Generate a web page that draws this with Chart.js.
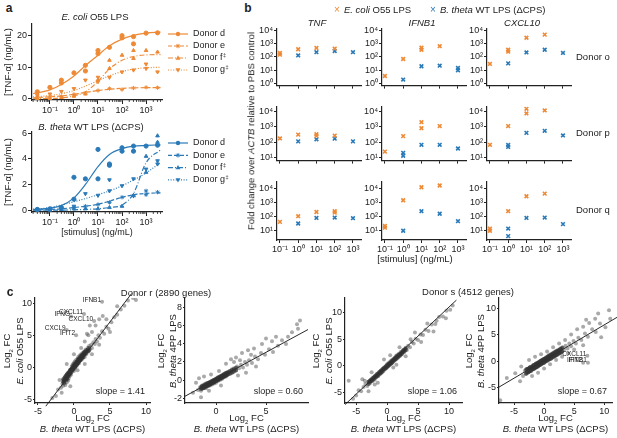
<!DOCTYPE html>
<html>
<head>
<meta charset="utf-8">
<script src="https://cdn.jsdelivr.net/npm/chart.js"></script>
<style>
  body { margin: 0; background: #fff; }
  #fig { position: relative; width: 617px; height: 438px; overflow: hidden;
         font-family: "Liberation Sans", Arial, sans-serif; color: #222; }
  #fig canvas { position: absolute; }
  .t { position: absolute; white-space: nowrap; line-height: 1; }
</style>
</head>
<body>
<div id="fig"></div>
<script>
// ---- panel a: TNF-α dose response (ng/mL) ----
const conc = [0.03, 0.1, 0.3, 1, 3, 10, 30, 100, 300, 1000, 3000];
const fitConc = [0.02, 0.1, 0.3, 1, 3, 10, 30, 100, 300, 1000, 4000];
const donorsA = ["Donor d", "Donor e", "Donor f", "Donor g"];
const footA = ["", "", "‡", "‡"];
const ecoliTnf = [
  [2.2, 3.6, 5.9, 8.2, 10.6, 15.3, 16.3, 19.3, 19.7, 20.8, 20.9],
  [0.3, 0.5, 0.7, 1.4, 1.8, 2.6, 3.2, 2.9, 3.4, 3.6, 3.5],
  [0.1, 0.0, 0.4, 0.8, 1.5, 6.0, 12.2, 13.8, 15.3, 15.3, 14.8],
  [1.0, 1.5, 2.3, 3.2, 5.9, 5.4, 6.8, 8.5, 9.1, 9.6, 8.5]
];
const ecoliExtra = [[0, 0.3, 5.0], [0, 3, 8.8], [0, 10, 14.3], [0, 100, 20.0], [0, 300, 17.4],
                    [2, 30, 9.6], [2, 300, 12.8], [3, 10, 6.8], [3, 1000, 11.0]];
const ecoliFit = [
  [1.6, 2.8, 4.5, 7.2, 10.5, 13.8, 16.8, 18.9, 20.1, 20.8, 21.1],
  [0.3, 0.6, 0.9, 1.4, 2.0, 2.6, 3.0, 3.3, 3.45, 3.5, 3.5],
  [0.0, 0.1, 0.3, 0.9, 2.2, 5.5, 9.5, 12.2, 13.4, 13.9, 14.0],
  [0.6, 1.0, 1.6, 2.6, 4.0, 5.7, 7.3, 8.6, 9.4, 9.8, 10.0]
];
const bthetaTnf = [
  [0.05, 0.1, 0.2, 2.56, 2.44, 4.74, 3.6, 4.87, 5.0, 5.0, 5.07],
  [0.05, 0.05, 0.1, 0.2, 0.3, 0.44, 0.6, 1.0, 1.1, 1.5, 1.4],
  [0.0, 0.0, 0.05, 0.1, 0.1, 0.1, 0.2, 0.3, 1.15, 4.2, 5.8],
  [0.0, 0.05, 0.1, 0.3, 1.28, 1.15, 2.36, 1.9, 2.44, 3.2, 3.85]
];
const bthetaExtra = [[0, 1, 0.85], [0, 10, 2.44], [0, 100, 4.6], [0, 300, 4.6], [0, 30, 3.5],
                     [1, 1000, 1.2], [2, 1000, 2.95], [2, 3000, 5.3], [3, 30, 1.5], [3, 3000, 3.6]];
const bthetaFit = [
  [0.05, 0.15, 0.35, 0.95, 2.0, 3.4, 4.35, 4.8, 5.0, 5.05, 5.1],
  [0.0, 0.05, 0.1, 0.2, 0.3, 0.45, 0.7, 1.0, 1.2, 1.3, 1.35],
  [0.0, 0.0, 0.0, 0.02, 0.05, 0.1, 0.2, 0.4, 1.3, 3.7, 4.7],
  [0.05, 0.2, 0.4, 0.65, 0.9, 1.2, 1.5, 1.9, 2.35, 2.9, 3.7]
];
const aTickX = [0.1, 1, 10, 100, 1000];
const aTickYTop = [0, 10, 20];
const aTickYBot = [0, 2, 4, 6];

// ---- panel b: fold change over ACTB (rows: donor o, p, q; cols: TNF, IFNB1, CXCL10) ----
const bConc = [0.1, 1, 10, 100, 1000];
const genes = ["TNF", "IFNB1", "CXCL10"];
const donorsB = ["Donor o", "Donor p", "Donor q"];
const ecoliFold = [
  [[[150, 200], 380, 480, 430, null], [3.7, 70, [350, 500], 650, null], [30, [250, 350], 2800, 4800, null]],
  [[170, 300, [250, 320], 260, null], [24, 240, [780, 1900], 1070, null], [66, 1070, [7000, 14000], 11000, null]],
  [[39, 100, 200, [180, 230], null], [[15, 20], 1400, 12000, 16000, null], [[9, 13], 230, 2700, 4200, null]]
];
const bthetaFold = [
  [[null, 130, 230, 280, 230], [null, 2, 20, 22, [10, 15]], [null, 33, 220, 350, 200]],
  [[null, 110, 150, 165, 110], [null, [13, 20], 66, 66, 38], [null, [48, 65], 390, 530, 265]],
  [[null, 30, 75, 80, 72], [null, 9, 230, 150, 44], [null, [3.7, 13], 75, 80, 27]]
];
const bTickX = [0.1, 1, 10, 100, 1000];
const bTickY = [[1, 10, 100, 1000, 10000], [10, 100, 1000, 10000], [10, 100, 1000, 10000]];

// ---- panel c: log2 FC scatter (x: B. theta WT LPS) ----
const cTitles = ["Donor r (2890 genes)", "Donor s (4512 genes)"];
const slopes = ["1.41", "0.60", "1.06", "0.67"];
const fcREcoli = [
  [-1.8,-3.2],[-1.6,-2.6],[-1.5,-2.9],[-1.4,-2.2],[-1.3,-2.5],[-1.2,-1.9],[-1.2,-2.8],[-1.1,-2.1],[-1.0,-1.6],[-1.0,-2.4],
  [-0.9,-1.9],[-0.9,-1.2],[-0.8,-1.5],[-0.8,-2.1],[-0.7,-1.1],[-0.7,-1.7],[-0.6,-0.8],[-0.6,-1.4],[-0.5,-1.0],[-0.5,-0.5],
  [-0.4,-1.2],[-0.4,-0.3],[-0.3,-0.7],[-0.3,0.1],[-0.2,-0.4],[-0.2,0.3],[-0.1,-0.2],[-0.1,0.5],[0,0],[0,-0.6],[0,0.6],
  [0.1,0.2],[0.1,0.9],[0.2,-0.1],[0.2,0.6],[0.3,0.4],[0.3,1.1],[0.4,0.2],[0.4,0.8],[0.5,1.3],[0.5,0.5],[0.6,0.9],[0.6,1.6],
  [0.7,0.6],[0.7,1.2],[0.8,1.0],[0.8,1.8],[0.9,1.4],[1.0,1.1],[1.0,2.0],[1.1,1.6],[1.2,1.3],[1.2,2.2],[1.3,1.8],[1.4,2.4],
  [1.5,1.6],[1.5,2.1],[1.6,2.7],[1.7,2.0],[1.8,2.5],[1.9,3.0],[2.0,2.4],[2.1,3.3],[2.2,2.8],[2.4,3.5],[2.5,3.0],[2.7,3.9],
  [2.9,3.6],[3.0,4.4],[3.2,4.0],[3.4,5.0],[3.6,4.6],[3.9,5.6],[4.2,5.2],[4.5,6.3],[4.8,6.0],[5.2,7.0],[5.6,7.8],[6.0,8.2],
  [6.5,9.0],[7.0,9.6],[7.5,10.4],[8.2,10.8],[8.6,10.5],
  [-2.5,-4.5],[-2.2,-3.5],[-2.0,-2.0],[-1.7,-4.0],[-0.5,-3.0],[0.5,-0.5],[1.0,3.0],[0.0,2.0],[1.5,4.0],[2.0,5.0],[2.5,5.5],
  [3.0,6.5],[4.0,8.0],[3.5,7.5],[1.5,0.5],[2.5,2.0],[3.5,3.5],[5.0,5.5],[4.5,7.5],[-1.0,0.5],[-3.0,-4.8],[6.0,9.5],
  [2.2,6.5],[1.8,5.2],[3.9,10.2],[1.4,8.3],[-0.4,7.9],[2.8,7.2],[-1.0,5.8],[0.3,5.0]
];
const coreREcoli = [
  [-1.5,-2.3],[-1.5,-1.9],[-1.4,-2.0],[-1.4,-2.4],[-1.3,-1.6],[-1.3,-2.1],[-1.2,-1.5],[-1.2,-1.8],[-1.1,-1.3],[-1.1,-1.8],
  [-1.0,-1.2],[-1.0,-1.9],[-0.9,-1.0],[-0.9,-1.5],[-0.8,-0.9],[-0.8,-1.3],[-0.7,-0.8],[-0.7,-1.2],[-0.6,-0.6],[-0.6,-1.1],
  [-0.5,-0.4],[-0.5,-0.9],[-0.4,-0.4],[-0.4,-0.8],[-0.3,-0.2],[-0.3,-0.5],[-0.2,-0.1],[-0.2,-0.5],[-0.1,0.1],[-0.1,-0.3],
  [0,0.2],[0,-0.2],[0.1,0.4],[0.1,0],[0.2,0.4],[0.2,0.1],[0.3,0.7],[0.3,0.3],[0.4,0.9],[0.4,0.4],[0.5,0.9],[0.5,0.6],
  [0.6,1.2],[0.6,0.7],[0.7,1.3],[0.7,0.9],[0.8,1.4],[0.8,1.0],[0.9,1.6],[0.9,1.1],[1.0,1.7],[1.0,1.3],[1.1,1.9],[1.1,1.4],
  [1.2,1.9],[1.2,1.6],[1.3,2.1],[1.3,1.6],[1.4,2.2],[1.4,1.9],[1.5,2.4],[1.5,2.0],[1.7,2.6],[1.7,2.2],[1.9,2.7],[1.9,2.5],
  [2.1,3.0],[2.1,2.6]
];
const fcR4pp = [
  [-1.8,-1.1],[-1.6,-0.8],[-1.5,-1.2],[-1.4,-0.6],[-1.3,-0.9],[-1.2,-0.5],[-1.1,-0.8],[-1.0,-0.4],[-1.0,-0.9],[-0.9,-0.6],
  [-0.8,-0.3],[-0.8,-0.7],[-0.7,-0.5],[-0.6,-0.2],[-0.6,-0.6],[-0.5,-0.4],[-0.4,-0.1],[-0.4,-0.5],[-0.3,-0.3],[-0.2,0],
  [-0.2,-0.4],[-0.1,-0.1],[0,0.1],[0,-0.3],[0.1,0],[0.2,0.3],[0.2,-0.1],[0.3,0.1],[0.4,0.4],[0.4,0],[0.5,0.2],[0.6,0.5],
  [0.6,0.1],[0.7,0.4],[0.8,0.7],[0.8,0.3],[0.9,0.5],[1.0,0.8],[1.0,0.4],[1.1,0.6],[1.2,0.9],[1.3,0.7],[1.4,1.0],[1.5,0.8],
  [1.6,1.2],[1.7,0.9],[1.8,1.3],[2.0,1.1],[2.1,1.5],[2.3,1.3],[2.5,1.7],[2.7,1.4],[2.9,2.0],[3.1,1.7],[3.3,2.2],[3.6,1.9],
  [3.9,2.6],[4.2,2.3],[4.5,3.0],[4.9,2.8],[5.3,3.4],[5.7,3.1],[6.2,3.8],[6.6,4.4],[7.2,4.8],[7.6,5.3],[8.1,6.2],[8.4,6.6],
  [8.2,5.7],[-2.3,-1.4],[-2.0,-0.3],[-1.7,0.2],[-1.2,0.4],[-0.5,0.6],[0.3,1.0],[1.0,1.8],[1.5,2.3],[2.0,2.5],[2.6,3.0],
  [3.2,3.3],[3.8,3.5],[4.6,4.0],[5.0,4.6],[3.0,0.8],[2.2,0.5],[4.0,1.5],[-0.7,-1.2],[-1.5,-1.9],[0.5,-0.6],[6.0,4.8],
  [7.0,4.0],[5.6,4.3],[1.8,2.0],[2.4,2.2],[3.5,2.8]
];
const coreR4pp = [
  [-1.5,-0.8],[-1.5,-1.0],[-1.4,-0.7],[-1.4,-0.95],[-1.3,-0.65],[-1.3,-0.9],[-1.2,-0.6],[-1.2,-0.85],[-1.1,-0.5],[-1.1,-0.8],
  [-1.0,-0.5],[-1.0,-0.7],[-0.9,-0.4],[-0.9,-0.65],[-0.8,-0.35],[-0.8,-0.6],[-0.7,-0.3],[-0.7,-0.55],[-0.6,-0.25],[-0.6,-0.5],
  [-0.5,-0.2],[-0.5,-0.45],[-0.4,-0.1],[-0.4,-0.35],[-0.3,-0.05],[-0.3,-0.3],[-0.2,0],[-0.2,-0.25],[-0.1,0.05],[-0.1,-0.2],
  [0,0.1],[0,-0.1],[0.1,0.2],[0.1,-0.05],[0.2,0.25],[0.2,0],[0.3,0.3],[0.3,0.1],[0.4,0.35],[0.4,0.15],[0.5,0.45],[0.5,0.2],
  [0.6,0.5],[0.6,0.25],[0.7,0.55],[0.7,0.3],[0.8,0.6],[0.8,0.4],[0.9,0.7],[0.9,0.45],[1.0,0.75],[1.0,0.5],[1.1,0.8],[1.1,0.55],
  [1.2,0.85],[1.2,0.6],[1.4,1.0],[1.4,0.7],[1.6,1.1],[1.6,0.8],[1.8,1.2],[1.8,0.95],[2.0,1.35],[2.0,1.05]
];
const fcSEcoli = [
  [-5.5,-6.2],[-5,-5.6],[-4.6,-4.6],[-4.2,-4.8],[-3.8,-4.0],[-3.5,-3.4],[-3.2,-3.8],[-3.0,-3.0],[-2.8,-3.3],[-2.6,-2.6],
  [-2.4,-2.9],[-2.2,-2.2],[-2.0,-2.6],[-1.9,-1.8],[-1.7,-2.1],[-1.6,-1.5],[-1.4,-1.9],[-1.3,-1.2],[-1.1,-1.5],[-1.0,-0.9],
  [-0.9,-1.3],[-0.7,-0.6],[-0.6,-1.0],[-0.5,-0.3],[-0.3,-0.6],[-0.2,0],[-0.1,-0.4],[0,0.3],[0.1,-0.1],[0.2,0.5],[0.3,0.1],
  [0.4,0.7],[0.5,0.3],[0.6,0.9],[0.7,0.5],[0.8,1.1],[0.9,0.7],[1.0,1.3],[1.1,0.9],[1.2,1.5],[1.3,1.1],[1.4,1.8],[1.5,1.3],
  [1.6,2.0],[1.8,1.6],[1.9,2.3],[2.1,1.9],[2.2,2.6],[2.4,2.3],[2.6,3.0],[2.8,2.6],[3.0,3.4],[3.2,3.0],[3.4,3.8],[3.7,3.5],
  [4.0,4.5],[4.3,4.2],[4.6,5.1],[5.0,4.9],[5.4,5.9],[5.8,5.8],[6.2,6.8],[6.7,6.6],[7.2,7.8],[7.8,7.9],[8.4,9.2],[9.0,9.3],
  [9.6,10.4],[10.2,10.6],[10.6,11.4],[-6.2,-2.8],[-4.0,-2.5],[-3.0,-4.8],[-1.5,-3.2],[-0.5,1.2],[1.0,-0.3],[2.0,3.5],
  [3.0,1.8],[4.5,6.3],[5.5,4.5],[6.5,8.0],[7.5,6.5],[-2.5,-1.2],[0.5,2.0],[1.5,0.2],[8.0,8.5],[9.5,9.0],[3.8,5.0],
  [-3.6,-2.8],[-2.0,-3.5]
];
const coreSEcoli = [
  [-3.0,-3.0],[-3.0,-3.4],[-2.8,-2.8],[-2.8,-3.1],[-2.6,-2.6],[-2.6,-2.9],[-2.4,-2.4],[-2.4,-2.7],[-2.2,-2.2],[-2.2,-2.5],
  [-2.0,-2.0],[-2.0,-2.3],[-1.8,-1.8],[-1.8,-2.1],[-1.6,-1.6],[-1.6,-1.9],[-1.4,-1.4],[-1.4,-1.7],[-1.2,-1.1],[-1.2,-1.5],
  [-1.0,-0.9],[-1.0,-1.3],[-0.8,-0.7],[-0.8,-1.1],[-0.6,-0.5],[-0.6,-0.8],[-0.4,-0.3],[-0.4,-0.6],[-0.2,-0.1],[-0.2,-0.4],
  [0,0.1],[0,-0.2],[0.2,0.3],[0.2,0],[0.4,0.5],[0.4,0.2],[0.6,0.7],[0.6,0.4],[0.8,0.9],[0.8,0.6],[1.0,1.1],[1.0,0.9],
  [1.2,1.4],[1.2,1.1],[1.4,1.6],[1.4,1.3],[1.6,1.8],[1.6,1.5],[1.8,2.0],[1.8,1.7],[2.0,2.2],[2.0,1.9],[2.2,2.4],[2.2,2.1],
  [2.4,2.6],[2.4,2.3],[2.6,2.9],[2.6,2.6],[2.8,3.1],[2.8,2.8],[3.0,3.3],[3.0,3.0]
];
const fcS4pp = [
  [-3.5,-2.8],[-3.2,-1.8],[-3.0,-2.4],[-2.8,-1.5],[-2.6,-2.1],[-2.4,-1.2],[-2.2,-1.9],[-2.0,-1.0],[-1.9,-1.6],[-1.7,-0.8],
  [-1.6,-1.4],[-1.4,-0.6],[-1.3,-1.2],[-1.1,-0.4],[-1.0,-1.0],[-0.9,-0.2],[-0.8,-0.8],[-0.6,0],[-0.5,-0.6],[-0.4,0.2],
  [-0.3,-0.4],[-0.1,0.3],[0,-0.2],[0.1,0.5],[0.2,0],[0.3,0.7],[0.4,0.2],[0.6,0.9],[0.7,0.3],[0.8,1.1],[0.9,0.5],[1.1,1.3],
  [1.2,0.7],[1.4,1.5],[1.5,0.9],[1.7,1.7],[1.8,1.1],[2.0,1.9],[2.1,1.3],[2.3,2.1],[2.5,1.5],[2.7,2.4],[2.9,1.8],[3.1,2.6],
  [3.3,2.1],[3.6,2.9],[3.9,2.4],[4.2,3.3],[4.5,2.8],[4.9,3.8],[5.3,3.3],[5.7,4.4],[6.2,4.0],[6.8,5.2],[7.3,4.6],[8.0,6.0],
  [8.6,5.5],[9.3,7.1],[10.2,6.4],[10.8,9.6],[11.0,8.0],[-4.8,-2.3],[-6.2,-3.2],[-7.3,-7.4],[-4.0,-3.8],[-3.8,-1.0],
  [-2.5,0.2],[-1.5,0.8],[-0.5,1.3],[0.5,1.8],[1.5,2.6],[2.5,3.3],[3.5,4.0],[4.5,5.0],[5.5,6.0],[6.5,6.5],[7.5,7.2],
  [8.5,8.0],[-2.0,-2.8],[-1.0,-2.2],[0.0,-1.4],[1.0,-0.6],[2.0,0.2],[3.0,0.8],[4.0,1.5],[5.0,2.2],[6.5,3.0],[9.5,4.5],
  [9.0,9.0],[7.0,7.8],[7.2,1.0],[6.5,-0.3],[7.3,-0.3]
];
const coreS4pp = [
  [-3.0,-1.6],[-3.0,-2.4],[-2.8,-1.5],[-2.8,-2.2],[-2.6,-1.4],[-2.6,-2.1],[-2.4,-1.2],[-2.4,-1.9],[-2.2,-1.1],[-2.2,-1.8],
  [-2.0,-1.0],[-2.0,-1.6],[-1.8,-0.8],[-1.8,-1.5],[-1.6,-0.7],[-1.6,-1.4],[-1.4,-0.5],[-1.4,-1.2],[-1.2,-0.4],[-1.2,-1.1],
  [-1.0,-0.3],[-1.0,-0.9],[-0.8,-0.1],[-0.8,-0.8],[-0.6,0],[-0.6,-0.7],[-0.4,0.1],[-0.4,-0.5],[-0.2,0.3],[-0.2,-0.4],
  [0,0.4],[0,-0.3],[0.2,0.5],[0.2,-0.1],[0.4,0.7],[0.4,0],[0.6,0.8],[0.6,0.1],[0.8,0.9],[0.8,0.3],[1.0,1.1],[1.0,0.4],
  [1.2,1.2],[1.2,0.5],[1.4,1.4],[1.4,0.7],[1.6,1.5],[1.6,0.8],[1.8,1.6],[1.8,0.9],[2.0,1.8],[2.0,1.1],[2.2,1.9],[2.2,1.2],
  [2.4,2.0],[2.4,1.4],[2.6,2.2],[2.6,1.5],[2.8,2.3],[2.8,1.6],[3.0,2.5],[3.0,1.8]
];
const fitLines = [
  [[-3.9, -6.1], [8.0, 11.5]],
  [[-3.1, -1.8], [9.2, 5.6]],
  [[-6.8, -7.3], [11.2, 12.4]],
  [[-7.5, -4.9], [12.2, 8.3]]
];
const geneLabels = [
  [["IFNB1", 3.9, 10.2], ["CXCL11", 1.4, 8.3], ["IFNG", -0.4, 7.9], ["CXCL10", 2.8, 7.2], ["CXCL9", -1.0, 5.8], ["IFIT2", 0.3, 5.0]],
  [], [],
  [["CXCL11", 7.2, 1.0], ["IFIT2", 6.5, -0.3], ["IFNB1", 7.3, -0.3]]
];
const cTickX = [[-5, 0, 5, 10], [0, 5], [-5, 0, 5, 10], [-5, 0, 5, 10]];
const cTickY = [[-5, 0, 5, 10], [-2, 0, 2, 4, 6, 8], [-5, 0, 5, 10], [-5, 0, 5, 10]];

// ---- styles ----
const FONT = '"Liberation Sans", Arial, sans-serif';
const INK = "#222";
const ORANGE = "#EE8A36";
const BLUE = "#2B7AB8";
const DASH = [[], [4, 2], [5, 2, 1, 2], [1, 1.6]];
const MARK = ["circle", "star", "up", "down"];
const fig = document.getElementById("fig");
Chart.defaults.font.family = FONT;
Chart.defaults.color = INK;

const SUP = { "-": "⁻", "0": "⁰", "1": "¹", "2": "²", "3": "³", "4": "⁴", "5": "⁵" };
const pow10 = v => "10" + String(Math.round(Math.log10(v))).split("").map(c => SUP[c]).join("");

function text(html, x, y, o = {}) {
  const d = document.createElement("div");
  d.className = "t";
  d.innerHTML = html;
  d.style.left = x + "px";
  d.style.top = y + "px";
  d.style.fontSize = (o.size || 9) + "px";
  if (o.bold) d.style.fontWeight = "bold";
  if (o.color) d.style.color = o.color;
  let tf = o.align === "left" ? "translate(0,-50%)" :
           o.align === "right" ? "translate(-100%,-50%)" : "translate(-50%,-50%)";
  if (o.rot) tf += " rotate(-90deg)";
  d.style.transform = tf;
  fig.appendChild(d);
  return d;
}

function axis(type, min, max, ticks, fmt, labels, tickLen) {
  const ax = {
    type, min, max,
    border: { display: true, color: INK, width: 1.2 },
    grid: { display: true, drawOnChartArea: false, drawTicks: true, tickLength: tickLen || 3, color: INK, lineWidth: 1 },
    ticks: { display: labels, color: INK, font: { size: 9 }, padding: 1, maxRotation: 0, autoSkip: false },
    afterBuildTicks: s => { s.ticks = ticks.map(v => ({ value: v })); }
  };
  if (fmt) ax.ticks.callback = fmt;
  return ax;
}

// area = [left, right, top, bottom] of the plot frame, m = [l, r, t, b] room around it
function makeChart(area, m, config) {
  const cv = document.createElement("canvas");
  const w = area[1] - area[0] + m[0] + m[1], h = area[3] - area[2] + m[2] + m[3];
  cv.width = w; cv.height = h;
  cv.style.left = (area[0] - m[0]) + "px";
  cv.style.top = (area[2] - m[2]) + "px";
  cv.style.width = w + "px"; cv.style.height = h + "px";
  fig.appendChild(cv);
  const o = config.options;
  o.responsive = false;
  o.animation = false;
  o.layout = { padding: { left: 0, right: m[1], top: m[2], bottom: 0 } };
  o.scales.x.afterFit = s => { s.height = m[3]; };
  o.scales.y.afterFit = s => { s.width = m[0]; };
  o.plugins = Object.assign({ legend: { display: false }, tooltip: { enabled: false } }, o.plugins);
  return new Chart(cv, config);
}

function marker(ctx, style, x, y, r, col) {
  ctx.fillStyle = col; ctx.strokeStyle = col; ctx.lineWidth = 1;
  ctx.beginPath();
  if (style === "circle") { ctx.arc(x, y, r, 0, 2 * Math.PI); ctx.fill(); }
  else if (style === "star") {
    ctx.moveTo(x - r, y); ctx.lineTo(x + r, y); ctx.moveTo(x, y - r); ctx.lineTo(x, y + r);
    const k = r * 0.7;
    ctx.moveTo(x - k, y - k); ctx.lineTo(x + k, y + k); ctx.moveTo(x - k, y + k); ctx.lineTo(x + k, y - k);
    ctx.stroke();
  } else {
    const s = style === "up" ? 1 : -1;
    ctx.moveTo(x, y - s * r * 1.2); ctx.lineTo(x + r * 1.1, y + s * r * 0.8); ctx.lineTo(x - r * 1.1, y + s * r * 0.8);
    ctx.closePath(); ctx.fill();
  }
}

const donorLegend = {
  id: "donorLegend",
  afterDraw(chart, args, o) {
    const ctx = chart.ctx, a = chart.chartArea;
    ctx.save();
    donorsA.forEach((name, i) => {
      const x = a.right + 6, y = a.top + o.top + i * o.step;
      ctx.strokeStyle = o.color; ctx.lineWidth = 1.2; ctx.setLineDash(DASH[i]);
      ctx.beginPath(); ctx.moveTo(x, y); ctx.lineTo(x + 20, y); ctx.stroke();
      ctx.setLineDash([]);
      marker(ctx, MARK[i], x + 10, y, 2.2, o.color);
      ctx.fillStyle = INK; ctx.textAlign = "left"; ctx.textBaseline = "middle";
      ctx.font = "9px " + FONT;
      ctx.fillText(name, x + 25, y);
      if (footA[i]) {
        const w = ctx.measureText(name).width;
        ctx.font = "5.5px " + FONT;
        ctx.fillText(footA[i], x + 25.5 + w, y - 2.5);
      }
    });
    ctx.restore();
  }
};

const minorTicks = {
  id: "minorTicks",
  afterDraw(chart) {
    const s = chart.scales.x, ctx = chart.ctx;
    ctx.save(); ctx.strokeStyle = INK; ctx.lineWidth = 0.8;
    for (let e = -2; e <= 3; e++) for (let k = 2; k <= 9; k++) {
      const v = k * Math.pow(10, e);
      if (v < s.min || v > s.max) continue;
      const px = s.getPixelForValue(v);
      ctx.beginPath(); ctx.moveTo(px, s.top); ctx.lineTo(px, s.top + 2); ctx.stroke();
    }
    ctx.restore();
  }
};

const cNotes = {
  id: "cNotes",
  afterDraw(chart, args, o) {
    const ctx = chart.ctx, a = chart.chartArea, sx = chart.scales.x, sy = chart.scales.y;
    ctx.save();
    ctx.fillStyle = INK; ctx.textBaseline = "middle"; ctx.textAlign = "right";
    ctx.font = "9px " + FONT;
    ctx.fillText("slope = " + o.slope, a.right - 5, a.bottom - 11);
    ctx.font = "6.5px " + FONT;
    o.genes.forEach(([g, x, y]) => {
      ctx.fillText(g, sx.getPixelForValue(x) - 1, sy.getPixelForValue(y) - 2);
    });
    ctx.restore();
  }
};

// ---- panel a ----
function doseSets(pts, extra, fit, col) {
  const sets = [];
  pts.forEach((row, i) => {
    sets.push({
      data: fitConc.map((x, j) => ({ x, y: fit[i][j] })), showLine: true, pointRadius: 0,
      borderColor: col, borderWidth: 1.2, borderDash: DASH[i], cubicInterpolationMode: "monotone", fill: false
    });
    const data = conc.map((x, j) => ({ x, y: row[j] }));
    extra.filter(e => e[0] === i).forEach(e => data.push({ x: e[1], y: e[2] }));
    sets.push({
      data, showLine: false, pointRadius: 2.1, borderWidth: 1,
      pointStyle: i === 1 ? "star" : (i === 0 ? "circle" : "triangle"), pointRotation: i === 3 ? 180 : 0,
      backgroundColor: col, borderColor: col
    });
  });
  return sets;
}

makeChart([32, 162, 24, 100], [32, 68, 8, 15], {
  type: "scatter",
  data: { datasets: doseSets(ecoliTnf, ecoliExtra, ecoliFit, ORANGE) },
  options: {
    scales: {
      x: axis("logarithmic", 0.018, 4600, aTickX, pow10, true, 4),
      y: axis("linear", -0.4, 23.7, aTickYTop, null, true, 4)
    },
    plugins: { donorLegend: { color: ORANGE, top: 10, step: 12 } }
  },
  plugins: [donorLegend, minorTicks]
});

makeChart([32, 162, 132, 212], [32, 68, 8, 28], {
  type: "scatter",
  data: { datasets: doseSets(bthetaTnf, bthetaExtra, bthetaFit, BLUE) },
  options: {
    scales: {
      x: Object.assign(axis("logarithmic", 0.018, 4600, aTickX, pow10, true, 4),
        { title: { display: true, text: "[stimulus] (ng/mL)", font: { size: 9 }, padding: { top: 0, bottom: 2 } } }),
      y: axis("linear", -0.15, 6.1, aTickYBot, null, true, 4)
    },
    plugins: { donorLegend: { color: BLUE, top: 11, step: 12.3 } }
  },
  plugins: [donorLegend, minorTicks]
});

// ---- panel b ----
function foldPoints(vals) {
  const out = [];
  vals.forEach((v, i) => {
    if (v === null) return;
    (Array.isArray(v) ? v : [v]).forEach(y => out.push({ x: bConc[i], y }));
  });
  return out;
}
const bCols = [277, 382, 487];
const bRows = [[28, 88, 0.708, 14125], [106, 163, 6.31, 19953], [181, 240, 1.95, 31623]];
bRows.forEach((row, r) => {
  bCols.forEach((left, c) => {
    const mk = col => ({ showLine: false, pointStyle: "crossRot", pointRadius: 2.6, borderWidth: 1.6,
                         borderColor: col, backgroundColor: col });
    makeChart([left, left + 84, row[0], row[1]], [24, 6, 6, r === 2 ? 16 : 4], {
      type: "scatter",
      data: { datasets: [
        Object.assign({ data: foldPoints(ecoliFold[r][c]) }, mk(ORANGE)),
        Object.assign({ data: foldPoints(bthetaFold[r][c]) }, mk(BLUE))
      ] },
      options: {
        scales: {
          x: axis("logarithmic", 0.0692, 2754, bTickX, pow10, r === 2, 3),
          y: axis("logarithmic", row[2], row[3], bTickY[r], pow10, true, 3)
        }
      }
    });
  });
});

// ---- panel c ----
const cAreas = [[35, 150, 298, 403], [185, 308, 298, 403], [345, 462, 298, 403], [499, 612, 298, 403]];
const cRanges = [[-5.4, 10.55, -5.6, 10.8], [-3.1, 9.2, -2.55, 9.1], [-6.8, 12.1, -7.0, 12.8], [-7.5, 11.3, -7.9, 11.9]];
const cData = [fcREcoli, fcR4pp, fcSEcoli, fcS4pp];
const cCore = [coreREcoli, coreR4pp, coreSEcoli, coreS4pp];
cAreas.forEach((area, i) => {
  const rg = cRanges[i];
  const dots = cData[i].concat(cCore[i], cCore[i]).map(([x, y]) => ({ x, y }));
  makeChart(area, [22, 5, 8, 12], {
    type: "scatter",
    data: { datasets: [
      { data: dots, pointRadius: 2, borderWidth: 0, backgroundColor: "rgba(50,50,50,0.42)" },
      { data: fitLines[i].map(([x, y]) => ({ x, y })), showLine: true, pointRadius: 0,
        borderColor: "#111", borderWidth: 0.9, clip: false }
    ] },
    options: {
      scales: {
        x: axis("linear", rg[0], rg[1], cTickX[i], null, true, 2),
        y: axis("linear", rg[2], rg[3], cTickY[i], null, true, 2)
      },
      plugins: { cNotes: { slope: slopes[i], genes: geneLabels[i] } }
    },
    plugins: [cNotes]
  });
});

// ---- text ----
text("a", 9, 8, { bold: true, size: 12 });
text("b", 248, 8, { bold: true, size: 12 });
text("c", 10, 292, { bold: true, size: 12 });

text("<i>E. coli</i> O55 LPS", 95, 17, { size: 9.5 });
text("<i>B. theta</i> WT LPS (ΔCPS)", 91, 127, { size: 9.5 });
text("[TNF-α] (ng/mL)", 8, 62, { size: 9.5, rot: true });
text("[TNF-α] (ng/mL)", 8, 172, { size: 9.5, rot: true });

text("×", 337, 10, { size: 10, color: ORANGE });
text("<i>E. coli</i> O55 LPS", 344, 10, { size: 9.5, align: "left" });
text("×", 433, 10, { size: 10, color: BLUE });
text("<i>B. theta</i> WT LPS (ΔCPS)", 440, 10, { size: 9.5, align: "left" });
const geneX = [317, 422, 522];
genes.forEach((g, i) => text("<i>" + g + "</i>", geneX[i], 23, { size: 9.5 }));
const donorY = [57, 133, 210];
donorsB.forEach((d, i) => text(d, 576, donorY[i], { size: 9.5, align: "left" }));
text("Fold change over <i>ACTB</i> relative to PBS control", 251, 131, { size: 9.5, rot: true });
text("[stimulus] (ng/mL)", 415, 259, { size: 9.5 });

text(cTitles[0], 166, 293, { size: 9.5 });
text(cTitles[1], 468, 292, { size: 9.5 });
const cYNames = ["<i>E. coli</i> O55 LPS", "<i>B. theta</i> 4PP LPS", "<i>E. coli</i> O55 LPS", "<i>B. theta</i> 4PP LPS"];
const cYPos = [[8, 20], [162, 173], [317, 329], [470, 481]];
cAreas.forEach((a, i) => {
  const cx = (a[0] + a[1]) / 2, cy = (a[2] + a[3]) / 2;
  text("Log<sub style='font-size:6px'>2</sub> FC", cx, 419, { size: 9.5 });
  text("<i>B. theta</i> WT LPS (ΔCPS)", cx, 429, { size: 9.5 });
  text("Log<sub style='font-size:6px'>2</sub> FC", cYPos[i][0], cy, { size: 9.5, rot: true });
  text(cYNames[i], cYPos[i][1], cy, { size: 9.5, rot: true });
});
</script>
</body>
</html>
